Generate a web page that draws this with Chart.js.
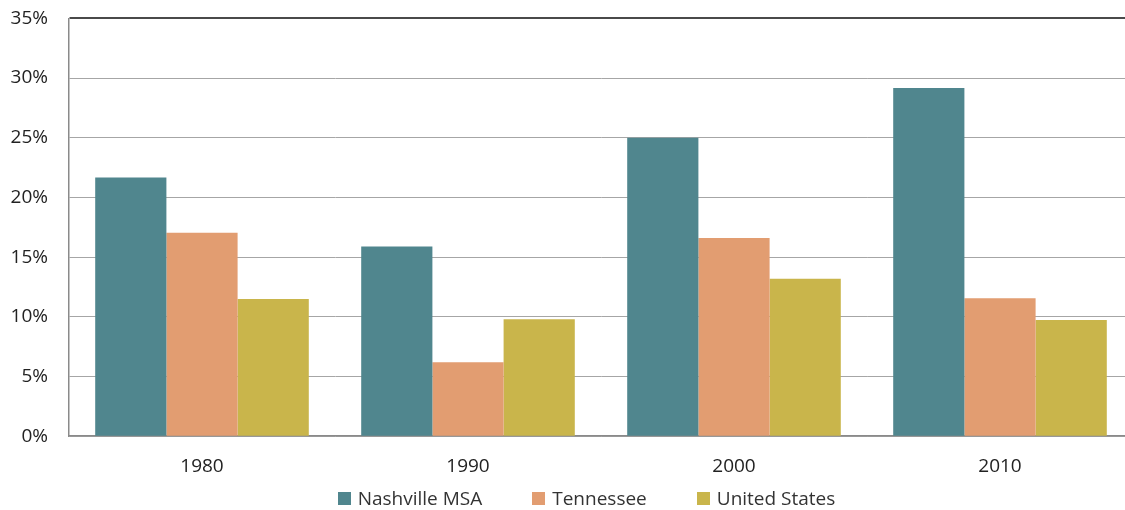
<!DOCTYPE html>
<html>
<head>
<meta charset="utf-8">
<script src="https://cdn.jsdelivr.net/npm/chart.js@4/dist/chart.umd.min.js"></script>
<style>
  html, body { margin: 0; padding: 0; background: #fff; overflow: hidden; }
  #wrap { width: 1125px; height: 510px; position: relative; overflow: hidden; }
  /* plot runs a little past the right edge and the top label sits above it */
  #plot { position: absolute; left: 0; top: -14px; width: 1133px; height: 544px; }
  #legend {
    position: absolute; left: 24px; top: 486px; width: 1125px;
    display: flex; justify-content: center; gap: 50px;
    font-family: 'Open Sans', 'Noto Sans', sans-serif; font-size: 19px; color: #333;
    line-height: 24px;
  }
  #legend .item { display: flex; align-items: center; }
  #legend .box { width: 13px; height: 13px; margin-right: 7px; }
</style>
</head>
<body>
<div id="wrap">
  <div id="plot"><canvas id="shareChart"></canvas></div>
  <div id="legend"></div>
</div>
<script>
// decades on the x axis
const years = ['1980', '1990', '2000', '2010'];

// percent values per series
const nashvilleMsa = [21.67, 15.9, 25.0, 29.17];
const tennessee = [17.05, 6.2, 16.6, 11.55];
const unitedStates = [11.5, 9.8, 13.2, 9.73];

const yTicks = [0, 5, 10, 15, 20, 25, 30, 35];

const seriesNames = ['Nashville MSA', 'Tennessee', 'United States'];
const seriesColors = ['#50868e', '#e29d71', '#c9b54b'];

const FONT = { family: "'Open Sans', 'Noto Sans', sans-serif", size: 19 };

// legend under the canvas
const legendEl = document.getElementById('legend');
seriesNames.forEach((name, i) => {
    const item = document.createElement('div');
    item.className = 'item';
    item.innerHTML = '<span class="box" style="background:' + seriesColors[i] + '"></span><span>' + name + '</span>';
    legendEl.appendChild(item);
});

const ctx = document.getElementById('shareChart');
new Chart(ctx.getContext('2d'), {
    type: 'bar',
    data: {
        labels: years,
        datasets: [nashvilleMsa, tennessee, unitedStates].map((vals, i) => ({
            label: seriesNames[i],
            data: vals,
            backgroundColor: seriesColors[i],
            borderWidth: 0,
            categoryPercentage: 0.803,
            barPercentage: 1.0
        }))
    },
    options: {
        responsive: true,
        maintainAspectRatio: false,
        animation: false,
        layout: { padding: { top: 0, right: 0, bottom: 33, left: 0 } },
        plugins: {
            tooltip: { enabled: false },
            legend: { display: false }
        },
        scales: {
            x: {
                grid: { display: false, drawTicks: false },
                border: { color: '#8a8a8a', width: 1.5 },
                ticks: { color: '#222', font: FONT, padding: 19 }
            },
            y: {
                min: yTicks[0],
                max: yTicks[yTicks.length - 1],
                afterFit: s => { s.width = 69; },
                afterBuildTicks: s => { s.ticks = yTicks.map(v => ({ value: v })); },
                border: { color: '#8a8a8a', width: 1.5 },
                grid: {
                    drawTicks: false,
                    color: c => c.tick && c.tick.value === 35 ? '#4a4a4a' : '#a6a6a6',
                    lineWidth: c => c.tick && c.tick.value === 35 ? 2 : 1
                },
                ticks: {
                    color: '#222',
                    font: FONT,
                    padding: 21,
                    callback: v => v + '%'
                }
            }
        }
    }
});
</script>
</body>
</html>
